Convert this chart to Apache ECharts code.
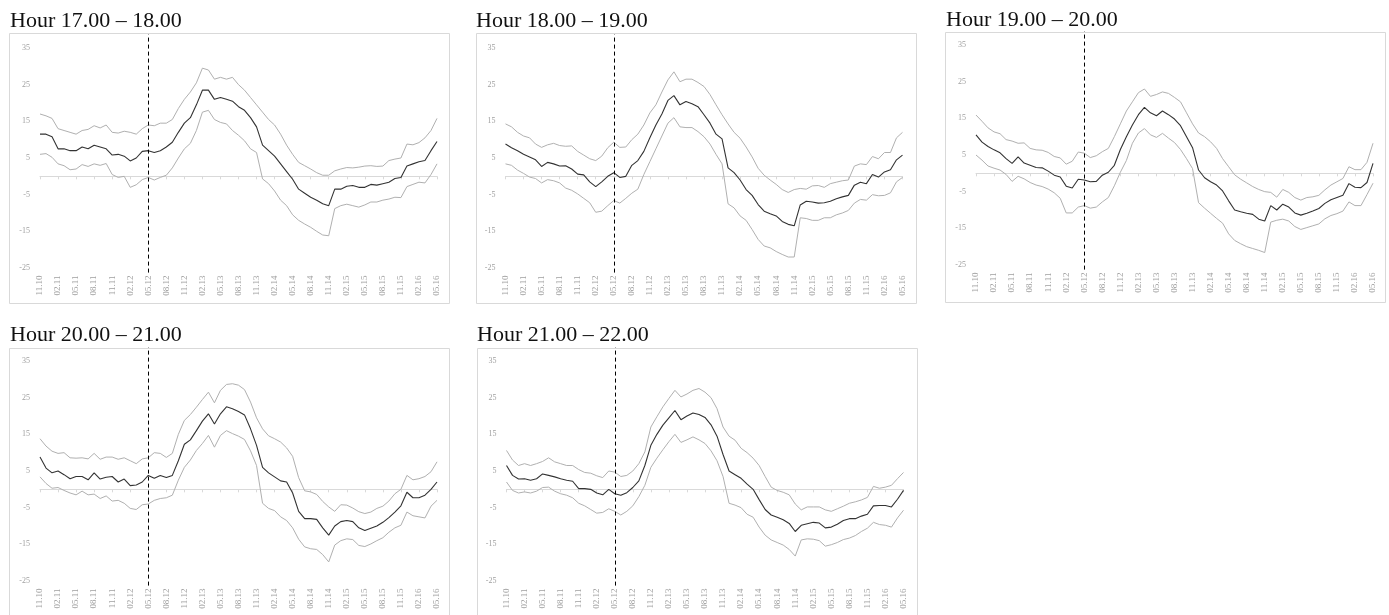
<!DOCTYPE html>
<html>
<head>
<meta charset="utf-8">
<script src="https://cdn.jsdelivr.net/npm/echarts@6/dist/echarts.min.js"></script>
<style>
  html, body { margin: 0; padding: 0; background: #fff; }
  #chart { width: 1389px; height: 615px; }
</style>
</head>
<body>
<div id="chart"></div>
<script>
// monthly categories, labelled every third month
const months = [
  '11.10', '12.10',
  '01.11', '02.11', '03.11', '04.11', '05.11', '06.11', '07.11', '08.11', '09.11', '10.11', '11.11', '12.11',
  '01.12', '02.12', '03.12', '04.12', '05.12', '06.12', '07.12', '08.12', '09.12', '10.12', '11.12', '12.12',
  '01.13', '02.13', '03.13', '04.13', '05.13', '06.13', '07.13', '08.13', '09.13', '10.13', '11.13', '12.13',
  '01.14', '02.14', '03.14', '04.14', '05.14', '06.14', '07.14', '08.14', '09.14', '10.14', '11.14', '12.14',
  '01.15', '02.15', '03.15', '04.15', '05.15', '06.15', '07.15', '08.15', '09.15', '10.15', '11.15', '12.15',
  '01.16', '02.16', '03.16', '04.16', '05.16'
]
const markMonth = '05.12'

const titles = ['Hour 17.00 – 18.00', 'Hour 18.00 – 19.00', 'Hour 19.00 – 20.00', 'Hour 20.00 – 21.00', 'Hour 21.00 – 22.00']

const mid17 = [11.5, 11.5, 10.8, 7.5, 7.5, 7, 7, 8, 7.5, 8.5, 8, 7.5, 5.8, 6, 5.5, 4.2, 5, 6.8, 7, 6.5,
  7, 8, 9.3, 12, 14.5, 16, 19.5, 23.5, 23.5, 21, 21.5, 21, 20.5, 19, 18, 16, 13.5, 8.5, 7, 5.5,
  3.4, 1.3, -0.8, -3.5, -4.6, -5.7, -6.5, -7.5, -8, -3.5, -3.5, -2.7, -2.5, -3, -3, -2.2, -2.4, -2, -1.6, -0.6,
  -0.3, 2.8, 3.4, 4, 4.3, 7, 9.5]
const up17 = [17, 16.5, 15.8, 13, 12.5, 12, 11.5, 12.5, 12.8, 13.8, 13.2, 14, 12, 11.8, 12.3, 12, 11.5, 13, 14, 13.8,
  14.5, 14.5, 15.5, 18.5, 21, 23, 25.5, 29.5, 29, 26.5, 27, 26.5, 27, 25, 23.5, 21.5, 19.5, 17.5, 15.5, 14,
  11.5, 8.5, 6, 3.8, 2.9, 2, 1, 0.3, 0.3, 1.5, 2, 2.4, 2.3, 2.5, 2.8, 2.9, 2.7, 2.8, 4.3, 4.7,
  5, 8.8, 8.6, 9.2, 10.5, 12.5, 15.8]
const low17 = [6, 6.2, 5.2, 3.4, 2.9, 1.8, 2, 3.2, 2.7, 3.4, 3, 3.5, 0.5, -0.3, 0, -3, -2.3, -0.9, -0.3, -1,
  -0.3, 0.3, 2.3, 5, 7.5, 9, 12.5, 17.5, 18, 15.5, 14.7, 14.3, 12.5, 11.2, 9.7, 7.5, 6.5, -0.7, -2, -4,
  -6.5, -8, -10.5, -12, -13, -13.9, -15, -16, -16.2, -8.8, -8, -7.6, -8, -8.4, -7.8, -7, -7, -6.5, -6.2, -5.7,
  -5.8, -2.8, -2.2, -1.6, -1.8, 0.5, 3.4]

const mid18 = [8.8, 7.8, 7, 6, 5.3, 4.5, 2.7, 3.8, 3.4, 2.8, 2.9, 2, 0.6, 0.4, -1.5, -2.8, -1.5, 0, 1, -0.3,
  0, 3, 4.3, 6.8, 10.5, 14, 17, 20.7, 22, 19.5, 20.4, 19.8, 19, 16.8, 14.5, 11.5, 10.2, 2.3, 1, -1,
  -3.6, -5.2, -7.7, -9.5, -10.2, -10.8, -12.3, -13.1, -13.5, -7.8, -6.8, -7, -7.3, -7.2, -6.8, -6.1, -5.6, -5.2, -2.4, -1.6,
  -2, 0.5, -0.2, 1.2, 1.8, 4.5, 5.8]
const up18 = [14.3, 13.5, 12, 11, 10.5, 8.8, 7.9, 8.6, 9, 8.4, 8.2, 8.3, 6.8, 5.8, 4.8, 4.3, 5.5, 7.8, 9.3, 7.9,
  8, 10, 11.5, 14, 17.3, 19.5, 23, 26.3, 28.5, 25.8, 26.5, 26.5, 25.6, 24.5, 22.3, 19.5, 16.8, 14.3, 12, 10.4,
  8, 5.3, 2.2, 0.3, -1, -2.2, -3.6, -4.4, -3.6, -3.3, -3.5, -2.6, -2.5, -3, -2, -1.6, -1.2, -1, 2.8, 3.4,
  3.2, 5.4, 4.8, 6.5, 6.5, 10.5, 12]
const low18 = [3.4, 3, 1.7, 0.8, -0.2, -0.6, -1.8, -0.9, -1.2, -1.8, -3.2, -3.8, -4.8, -6, -7.2, -9.8, -9.5, -8, -6.6, -7.3,
  -6, -4.6, -3.5, 0.5, 4, 7.5, 11, 14.5, 16, 13.5, 13.3, 13.3, 12.2, 10.8, 8.8, 6, 3.4, -7.5, -8.6, -10.8,
  -12, -14.5, -17.2, -19, -19.5, -20.5, -21.3, -22, -22, -11.3, -11.5, -12, -12, -11.3, -11.3, -10.5, -10, -9.3, -7.3, -6.3,
  -6.5, -5, -5.3, -5.2, -4.5, -1.5, -0.3]

const mid19 = [10.5, 8.5, 7.3, 6.4, 5.6, 4, 2.7, 4.5, 2.8, 2.2, 1.6, 1.5, 0.6, -0.5, -1, -3.5, -4, -1.6, -1.8, -2.3,
  -2.2, -0.5, 0.3, 2.2, 6.5, 10, 13.2, 16, 18, 16.5, 15.7, 17, 16, 14.8, 13, 10, 7, 0.9, -1.2, -2.3,
  -3.2, -4.8, -7.5, -10, -10.5, -10.9, -11.2, -12.5, -13, -8.8, -10, -8.4, -9.2, -10.8, -11.4, -10.9, -10.3, -9.6, -8.2, -7.2,
  -6.6, -6, -2.8, -3.8, -3.9, -2.5, 2.7]
const up19 = [15.9, 14.2, 12.4, 11.3, 10.8, 9.2, 8.8, 8.2, 8.3, 6.8, 6.4, 6.3, 5.7, 4.6, 4.2, 2.5, 3.3, 5.8, 5.5, 4.3,
  4.8, 5.9, 6.8, 10, 13.5, 17, 19.5, 22, 23, 21, 21.5, 22.2, 21.8, 20.7, 19.5, 16.5, 13.5, 11, 10, 8.6,
  6.8, 4, 1.8, -0.4, -1.6, -2.6, -3.6, -4.4, -5, -5.2, -6.5, -4.4, -5.2, -6.6, -7.3, -6.6, -6.4, -6, -4.5, -3.2,
  -2.3, -1.4, 1.8, 1, 1, 3, 8.2]
const low19 = [5, 3.6, 2, 1.4, 0.9, -0.3, -2.2, -0.8, -1.5, -2.5, -3.2, -3.6, -4.3, -5.3, -6.8, -10.8, -10.8, -9.2, -8.8, -9.5,
  -9.2, -7.8, -6.6, -3.4, 0.3, 3.5, 8.2, 11, 12.2, 10.5, 9.8, 10.9, 9.6, 8.4, 6.5, 4, 1.3, -8, -9.5, -10.9,
  -12.3, -13.6, -16.5, -18.3, -19.2, -20, -20.5, -21, -21.6, -13.3, -12.8, -12.5, -13, -14.5, -15.3, -14.8, -14.3, -13.8, -12.4, -11.5,
  -11, -10.3, -7.8, -8.8, -8.8, -5.8, -2.7]

const mid20 = [8.8, 5.8, 4.5, 5, 4, 2.9, 3.5, 3.5, 2.6, 4.5, 2.8, 3.3, 3.5, 2, 2.8, 1, 1.2, 2, 3.8, 3,
  3.8, 3.2, 3.8, 7.8, 12.3, 13.5, 16, 18.6, 20.6, 17.8, 20.6, 22.5, 22, 21.2, 20.3, 16.5, 12, 6, 4.5, 3.4,
  2.3, 2, -1, -6, -8, -8, -8.2, -10.5, -12.5, -10, -8.8, -8.5, -8.8, -10.5, -11.2, -10.6, -10, -9, -7.7, -6.2,
  -4.5, -0.8, -2.3, -2.3, -1.6, 0, 2]
const up20 = [13.8, 11.8, 10.4, 9.8, 10, 8.6, 8.5, 8.6, 8.3, 9.8, 8.2, 8.8, 8.8, 8.2, 8.6, 7.8, 7, 8.3, 8.6, 10,
  9.8, 8.7, 9.8, 15, 18.8, 20.4, 22.4, 24.5, 26.5, 23.6, 27, 28.6, 28.8, 28.4, 27.2, 23.8, 19.5, 16.5, 14.6, 13.8,
  12.9, 11.3, 9, 3.2, -0.4, -0.7, -1.4, -3.3, -4.8, -6, -4.2, -4.3, -5.1, -6.1, -6.6, -6.2, -5.2, -4.6, -3.2, -1.2,
  0, 3.8, 2.6, 2.9, 3.5, 4.8, 7.5]
const low20 = [3.4, 1.6, 0.3, 0.5, -0.3, -1, -1.5, -0.5, -1.5, -1.3, -2.5, -1.8, -3.2, -3, -3.8, -5.2, -5.5, -4.2, -4, -3,
  -2.5, -2.3, -1.6, 2.5, 6, 8, 10.6, 12.5, 14.7, 11.5, 14.7, 16, 15.2, 14.5, 13.6, 10.5, 6.5, -3.8, -5.2, -5.8,
  -7.5, -8.5, -10.5, -13.6, -15.7, -16.2, -16.4, -17.8, -19.8, -15.2, -14, -13.5, -13.7, -15.3, -15.6, -14.9, -14, -13.2, -11.7, -10.5,
  -9.8, -6.2, -7.2, -7.5, -7.8, -4.6, -3]

const mid21 = [6.5, 3.8, 2.8, 2.9, 2.5, 2.9, 4.2, 3.8, 3.4, 2.9, 2.5, 2.2, 0.2, 0.2, 0, -1, -1.5, 0, -1.2, -1.6,
  -0.9, 0.5, 2.3, 6.5, 12, 15, 17.5, 19.5, 21.5, 19, 20, 20.8, 20.4, 19.6, 17.6, 14.5, 9.5, 5, 4, 3,
  1.4, 0, -2.8, -5.5, -7, -7.6, -8.3, -9.3, -11.5, -9.8, -9.4, -9, -9.2, -10.5, -10.3, -9.5, -8.5, -8, -8, -7.3,
  -6.8, -4.5, -4.4, -4.4, -4.8, -2.7, -0.3]
const up21 = [10.6, 8, 6.5, 7, 6.5, 7, 7.6, 8.6, 7.5, 7, 6.5, 6.5, 5.4, 4.6, 4.4, 3.7, 3.2, 5, 4.7, 3.5,
  3.8, 5, 7, 10.2, 17, 19.8, 22.5, 24.8, 27, 25.2, 26, 27, 27.5, 26.5, 25, 22, 17, 14.5, 13.4, 11.2,
  10, 8.5, 6.5, 3.5, 0.6, -0.3, -0.8, -1.5, -4, -5.6, -4.8, -4.8, -4.8, -5.6, -6, -5.3, -4.6, -3.8, -3.4, -2.9,
  -2.2, 0.8, 0.3, 0.6, 1.1, 2.9, 4.6]
const low21 = [2, -0.3, -1, -0.7, -1, -0.5, 0.5, 0.6, -0.5, -1.2, -1.6, -2.3, -3.8, -4.5, -5.5, -6.5, -6.3, -5.3, -6, -7,
  -6, -4.5, -2, 1.1, 6, 8.5, 10.8, 13, 15, 12.8, 13.5, 14.3, 13.5, 12.5, 10.5, 7.8, 3.5, -3.8, -4.3, -5,
  -6.8, -7.6, -10.3, -12.5, -13.8, -14.5, -15.2, -16.4, -18.2, -13.8, -13.5, -13.6, -14, -15.5, -15.1, -14.5, -13.7, -13.3, -12.6, -11.5,
  -10.6, -9, -9.6, -9.8, -10.3, -7.8, -5.7]

const panels = [
  { mid: mid17, up: up17, low: low17 },
  { mid: mid18, up: up18, low: low18 },
  { mid: mid19, up: up19, low: low19 },
  { mid: mid20, up: up20, low: low20 },
  { mid: mid21, up: up21, low: low21 }
]

// placement of each panel: plot area, frame and title
const layout = [
  { gx: 40, gy: 34.25, bx: 9.5, by: 33.5, bh: 270, tx: 10, ty: 10 },
  { gx: 505.5, gy: 34.25, bx: 476.5, by: 33.5, bh: 270, tx: 476, ty: 10 },
  { gx: 976, gy: 31.25, bx: 945.5, by: 32.5, bh: 270, tx: 946, ty: 9 },
  { gx: 40, gy: 347.25, bx: 9.5, by: 348.5, bh: 280, tx: 10, ty: 324 },
  { gx: 506.5, gy: 347.25, bx: 477.5, by: 348.5, bh: 280, tx: 477, ty: 324 }
]

const PX = 3.6667 // pixels per unit on the y axis
const Y_MIN = -26.25
const Y_MAX = 38.75
const gridW = 397
const gridH = (Y_MAX - Y_MIN) * PX

const serif = 'Liberation Serif'
const labelGray = '#a0a0a0'
const frameGray = '#d9d9d9'

const chart = echarts.init(document.getElementById('chart'), null, { renderer: 'canvas' })

const grid = [], xAxis = [], yAxis = [], series = [], title = [], graphic = []

panels.forEach((p, i) => {
  const L = layout[i]
  grid.push({ left: L.gx, top: L.gy, width: gridW, height: gridH, outerBoundsMode: 'none' })

  title.push({
    text: titles[i], left: L.tx, top: L.ty, padding: 0,
    textStyle: { fontFamily: serif, fontSize: 22, fontWeight: 'normal', color: '#111' }
  })

  graphic.push({
    type: 'rect', silent: true,
    shape: { x: L.bx, y: L.by, width: 440, height: L.bh },
    style: { fill: 'none', stroke: frameGray, lineWidth: 1 }
  })

  // label axis at the bottom
  xAxis.push({
    gridIndex: i, type: 'category', data: months, boundaryGap: false, position: 'bottom',
    axisLine: { show: false, onZero: false },
    axisTick: { show: false },
    splitLine: { show: false },
    axisLabel: {
      interval: 2, rotate: 90, margin: 3,
      fontFamily: serif, fontSize: 9, color: labelGray
    }
  })
  // zero line with quarterly ticks
  xAxis.push({
    gridIndex: i, type: 'category', data: months, boundaryGap: false, position: 'bottom',
    axisLine: { show: true, onZero: true, lineStyle: { color: frameGray, width: 1 } },
    axisTick: { show: true, interval: 2, length: 3, lineStyle: { color: frameGray } },
    axisLabel: { show: false },
    splitLine: { show: false }
  })

  yAxis.push({
    gridIndex: i, type: 'value', min: Y_MIN, max: Y_MAX, interval: 1.25,
    axisLine: { show: false }, axisTick: { show: false }, splitLine: { show: false },
    axisLabel: {
      margin: 10, fontFamily: serif, fontSize: 8, color: labelGray,
      formatter: v => {
        if (v < -25 || v > 35) return ''
        const r = (((v + 25) % 10) + 10) % 10
        return Math.abs(r) < 1e-6 || Math.abs(r - 10) < 1e-6 ? String(Math.round(v)) : ''
      }
    }
  })

  const xi = i * 2 + 1
  series.push({
    type: 'line', xAxisIndex: xi, yAxisIndex: i, data: p.up,
    symbol: 'none', silent: true, lineStyle: { color: '#b0b0b0', width: 1 }
  })
  series.push({
    type: 'line', xAxisIndex: xi, yAxisIndex: i, data: p.low,
    symbol: 'none', silent: true, lineStyle: { color: '#b0b0b0', width: 1 }
  })
  series.push({
    type: 'line', xAxisIndex: xi, yAxisIndex: i, data: p.mid,
    symbol: 'none', silent: true, z: 3,
    lineStyle: { color: '#333', width: 1.1 },
    markLine: {
      silent: true, symbol: ['none', 'none'], label: { show: false },
      lineStyle: { color: '#000', type: [4, 3], width: 1 },
      data: [{ xAxis: markMonth }]
    }
  })
})

chart.setOption({
  animation: false,
  backgroundColor: '#fff',
  title, grid, xAxis, yAxis, series, graphic
})
</script>
</body>
</html>
